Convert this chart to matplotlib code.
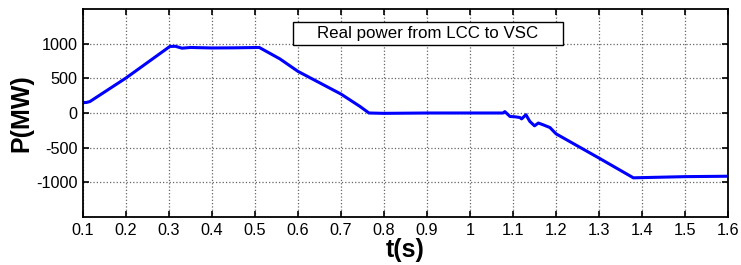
import numpy as np
import matplotlib.pyplot as plt
from matplotlib.patches import Rectangle

plt.rcParams['font.family'] = ['Liberation Sans', 'DejaVu Sans']
plt.rcParams['axes.unicode_minus'] = False

# values
t = [0.100, 0.108, 0.116, 0.200, 0.302, 0.315, 0.330, 0.350, 0.400, 0.450,
     0.510, 0.558, 0.600, 0.700, 0.744, 0.765, 0.800, 0.900, 1.000,
     1.047, 1.077, 1.081, 1.093, 1.105, 1.116, 1.120, 1.130, 1.139, 1.150, 1.159, 1.170,
     1.186, 1.200, 1.300, 1.380, 1.400, 1.450, 1.500, 1.550, 1.600]
p = [150, 152, 165, 505, 960, 962, 935, 945, 938, 940,
     945, 780, 600, 273, 95, 0, -5, 0, 0,
     0, 0, 20, -50, -55, -65, -85, -25, -120, -185, -145, -170,
     -210, -300, -650, -935, -932, -925, -918, -915, -912]

fig = plt.figure(figsize=(7.41, 2.65), dpi=100)
ax = fig.add_axes([83 / 741, 1 - 217 / 265, (728 - 83) / 741, (217 - 9) / 265])

ax.plot(t, p, color='#0000ff', lw=2.2)

ax.set_xlim(0.1, 1.6)
ax.set_ylim(-1500, 1500)
ax.set_xticks(np.arange(0.1, 1.61, 0.1))
ax.set_xticklabels(['0.1', '0.2', '0.3', '0.4', '0.5', '0.6', '0.7', '0.8', '0.9', '1',
                    '1.1', '1.2', '1.3', '1.4', '1.5', '1.6'])
ax.set_yticks([-1000, -500, 0, 500, 1000])
ax.grid(True, linestyle=':', color='#666666', lw=0.9)
ax.tick_params(direction='in', top=True, right=True, labelsize=11.7, length=4, width=1.2, pad=4)
for s in ax.spines.values():
    s.set_linewidth(1.3)

ax.set_xlabel('t(s)', fontsize=18, fontweight='bold', labelpad=0)
ax.set_ylabel('P(MW)', fontsize=18, fontweight='bold', labelpad=2)

# legend-style box
box = Rectangle((293 / 741, 1 - 45 / 265), (563 - 293) / 741, 23 / 265,
                transform=fig.transFigure, fc='white', ec='black', lw=1.0, zorder=5)
fig.patches.append(box)
fig.text(0.5 * (293 + 563) / 741, 1 - 33.5 / 265, 'Real power from LCC to VSC',
         ha='center', va='center', fontsize=12.2, zorder=6)

fig.savefig('out.png', dpi=100)
